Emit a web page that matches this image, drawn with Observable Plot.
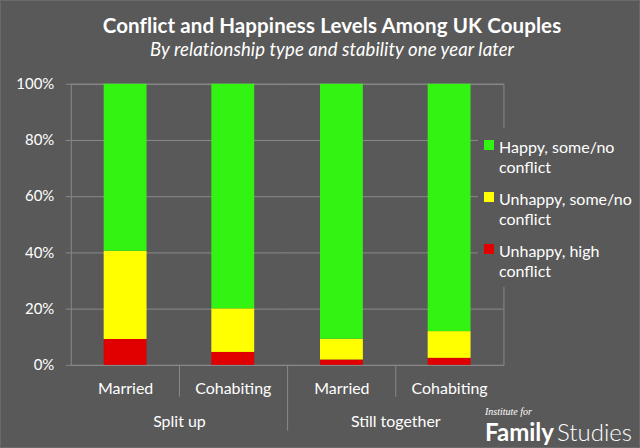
<!DOCTYPE html>
<html>
<head>
<meta charset="utf-8">
<script src="https://cdn.jsdelivr.net/npm/d3@7"></script>
<script src="https://cdn.jsdelivr.net/npm/@observablehq/plot@0.6"></script>
<style>
  html, body { margin: 0; padding: 0; background: #595959; }
  #chart { position: relative; width: 640px; height: 448px; overflow: hidden; background: #595959; font-family: Lato, sans-serif; color: #fff; box-sizing: border-box; border: 1px solid #6a6a6a; }
  #chart svg { position: absolute; left: -1px; top: -1px; }
  .title { position: absolute; left: 11px; width: 640px; text-align: center; white-space: nowrap; }
  #t1 { top: 13px; font: bold 20.5px/22px Lato, sans-serif; letter-spacing: 0.1px; }
  #t2 { top: 38px; font: italic 18.5px/20px Lato, sans-serif; letter-spacing: 0.1px; }
  #legend { position: absolute; left: 477px; top: 127px; width: 163px; height: 159px; background: #595959; padding-top: 9px; box-sizing: border-box; display: flex; flex-direction: column; gap: 12px; }
  .item { position: relative; padding-left: 21px; width: 140px; font: 16px/20px Lato, sans-serif; }
  .sw { position: absolute; left: 6px; top: 3px; width: 10px; height: 10px; }
  #logo1 { position: absolute; left: 484px; top: 405px; font: italic 10px/12px "Liberation Serif", serif; }
  #logo2 { position: absolute; left: 484px; top: 417px; font: 24px/28px Lato, sans-serif; white-space: nowrap; }
  #logo2 b { font-weight: bold; }
  #logo2 span { font-weight: 300; margin-left: 3px; }
</style>
</head>
<body>
<div id="chart"></div>
<script>
// ---- data ----
const groups = ["Split up", "Split up", "Still together", "Still together"];
const types = ["Married", "Cohabiting", "Married", "Cohabiting"];
const seriesNames = ["Unhappy, high conflict", "Unhappy, some/no conflict", "Happy, some/no conflict"];
const seriesColors = ["#e00000", "#ffff00", "#33f312"];
const highConflict = [9.2, 4.6, 1.9, 2.5];
const unhappySome = [31.4, 15.5, 7.4, 9.5];
const happySome = [59.4, 79.9, 90.7, 88.0];
const yTicks = [0, 20, 40, 60, 80, 100];
const titleText = "Conflict and Happiness Levels Among UK Couples";
const subtitleText = "By relationship type and stability one year later";

// ---- build table ----
const seriesValues = [highConflict, unhappySome, happySome];
const data = [];
groups.forEach((g, i) => {
  seriesNames.forEach((s, k) => {
    data.push({group: g, type: types[i], series: s, value: seriesValues[k][i]});
  });
});
const groupDomain = [...new Set(groups)];
const typeDomain = [...new Set(types)];
const gridColor = "#8a8a8a";

const W = 640, H = 448, MT = 84, MB = 82, ML = 71, MR = 135;
const frameHeight = H - MT - MB;

const plot = Plot.plot({
  width: W,
  height: H,
  marginTop: MT,
  marginBottom: MB,
  marginLeft: ML,
  marginRight: MR,
  style: {background: "transparent", color: "#fff", fontFamily: "Lato, sans-serif", fontSize: "16px"},
  fx: {domain: groupDomain, padding: 0, label: null},
  x: {domain: typeDomain, paddingInner: 0.604, paddingOuter: 0.302, label: null},
  y: {domain: [0, 100], label: null},
  color: {domain: seriesNames, range: seriesColors},
  marks: [
    Plot.gridY(yTicks, {stroke: gridColor, strokeOpacity: 1}),
    Plot.frame({facet: "super", stroke: gridColor}),
    Plot.barY(data, {fx: "group", x: "type", y: "value", fill: "series"}),
    // long separator between the two groups, below the axis
    Plot.ruleX([null], {x: null, insetTop: frameHeight, insetBottom: -66, facet: "super", stroke: gridColor}),
    Plot.axisY(yTicks, {tickSize: 5, tickPadding: 12, tickFormat: d => d + "%", fontSize: 15, stroke: gridColor, fill: "#fff", label: null}),
    Plot.axisX({tickSize: 0, tickPadding: 17, fontSize: 16, fill: "#fff", label: null}),
    Plot.axisFx({anchor: "bottom", tickSize: 32, tickPadding: 18, fontSize: 16, stroke: gridColor, fill: "#fff", label: null})
  ]
});

const chart = document.getElementById("chart");
chart.appendChild(plot);

const t1 = document.createElement("div");
t1.className = "title"; t1.id = "t1"; t1.textContent = titleText;
const t2 = document.createElement("div");
t2.className = "title"; t2.id = "t2"; t2.textContent = subtitleText;
chart.appendChild(t1);
chart.appendChild(t2);

// legend (top to bottom: reverse of stacking order)
const legend = document.createElement("div");
legend.id = "legend";
seriesNames.slice().reverse().forEach((s) => {
  const item = document.createElement("div");
  item.className = "item";
  const sw = document.createElement("div");
  sw.className = "sw";
  sw.style.background = seriesColors[seriesNames.indexOf(s)];
  item.appendChild(sw);
  item.appendChild(document.createTextNode(s));
  legend.appendChild(item);
});
chart.appendChild(legend);

const logo1 = document.createElement("div");
logo1.id = "logo1"; logo1.textContent = "Institute for";
const logo2 = document.createElement("div");
logo2.id = "logo2"; logo2.innerHTML = "<b>Family</b><span>Studies</span>";
chart.appendChild(logo1);
chart.appendChild(logo2);
</script>
</body>
</html>
